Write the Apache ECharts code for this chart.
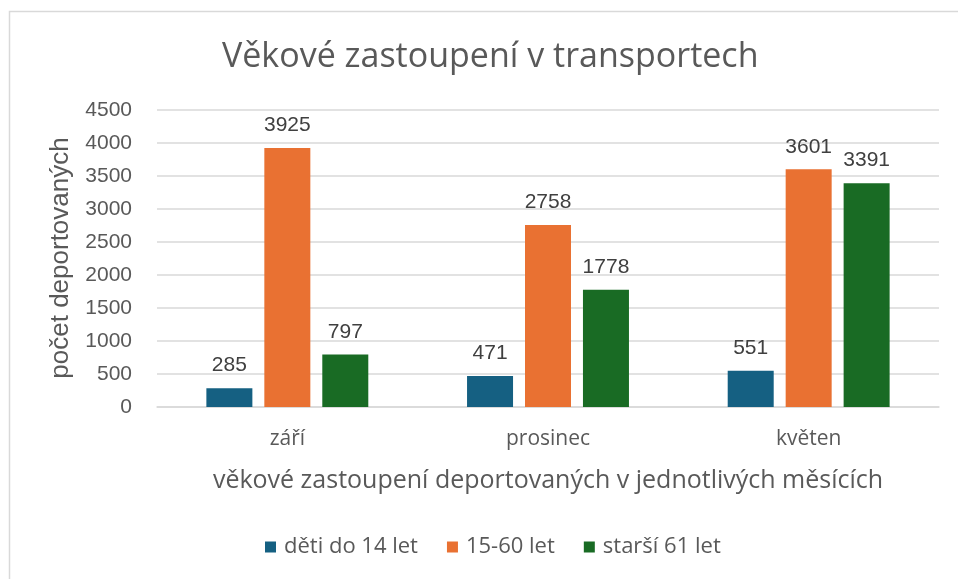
<!DOCTYPE html>
<html>
<head>
<meta charset="utf-8">
<script src="https://cdn.jsdelivr.net/npm/echarts@6/dist/echarts.min.js"></script>
<style>html,body{margin:0;padding:0;background:#fff}#c{width:958px;height:579px}</style>
</head>
<body>
<div id="c"></div>
<script>
const categories = ['září', 'prosinec', 'květen'];
const seriesNames = ['děti do 14 let', '15-60 let', 'starší 61 let'];
const children = [285, 471, 551];
const adults = [3925, 2758, 3601];
const seniors = [797, 1778, 3391];
const yTicks = [0, 500, 1000, 1500, 2000, 2500, 3000, 3500, 4000, 4500];
const colors = ['#156082', '#E97132', '#196B24'];
const titleText = 'Věkové zastoupení v transportech';
const xName = 'věkové zastoupení deportovaných v jednotlivých měsících';
const yName = 'počet deportovaných';

const chart = echarts.init(document.getElementById('c'), null, {renderer: 'canvas'});
const txt = '#595959';
const uiFont = 'Open Sans';
const numFont = 'Liberation Sans';
const values = [children, adults, seniors];
chart.setOption({
  animation: false,
  color: colors,
  title: {
    text: titleText, left: 217, top: 35,
    textStyle: {fontFamily: uiFont, fontSize: 34, fontWeight: 'normal', color: txt}
  },
  graphic: [{
    type: 'rect', shape: {x: 9.5, y: 11.5, width: 1000, height: 1000},
    style: {fill: 'none', stroke: '#d9d9d9', lineWidth: 1.5}, silent: true
  }, {
    type: 'text', x: 61, y: 258, rotation: Math.PI / 2, silent: true,
    style: {text: yName, font: '26px "Liberation Sans"', fill: txt, align: 'center', verticalAlign: 'middle'}
  }],
  legend: {
    bottom: 16, left: 260, itemWidth: 11, itemHeight: 11, itemGap: 29,
    icon: 'rect',
    textStyle: {fontFamily: uiFont, fontSize: 22, color: txt, padding: [0, 0, 0, 3]},
    data: seriesNames
  },
  grid: {left: 157, right: 19, top: 110, bottom: 172},
  xAxis: {
    type: 'category', data: categories,
    axisLine: {lineStyle: {color: '#d9d9d9', width: 1.5}},
    axisTick: {show: false},
    axisLabel: {fontFamily: uiFont, fontSize: 21, color: txt, margin: 22},
    name: xName, nameLocation: 'middle', nameGap: 61,
    nameTextStyle: {fontFamily: uiFont, fontSize: 25, color: txt}
  },
  yAxis: {
    type: 'value', min: 0, max: 4500, interval: 500,
    axisLine: {show: false}, axisTick: {show: false},
    splitLine: {lineStyle: {color: '#d9d9d9', width: 1.5}},
    axisLabel: {fontFamily: numFont, fontSize: 21, color: txt, margin: 25,
      formatter: v => yTicks.includes(v) ? String(v) : ''}
  },
  series: values.map((d, i) => ({
    name: seriesNames[i], type: 'bar', data: d,
    barWidth: 46, barGap: '26%',
    itemStyle: {color: colors[i]},
    label: {show: true, position: 'top', distance: 12, fontFamily: numFont, fontSize: 21, color: '#404040'}
  }))
});
</script>
</body>
</html>
